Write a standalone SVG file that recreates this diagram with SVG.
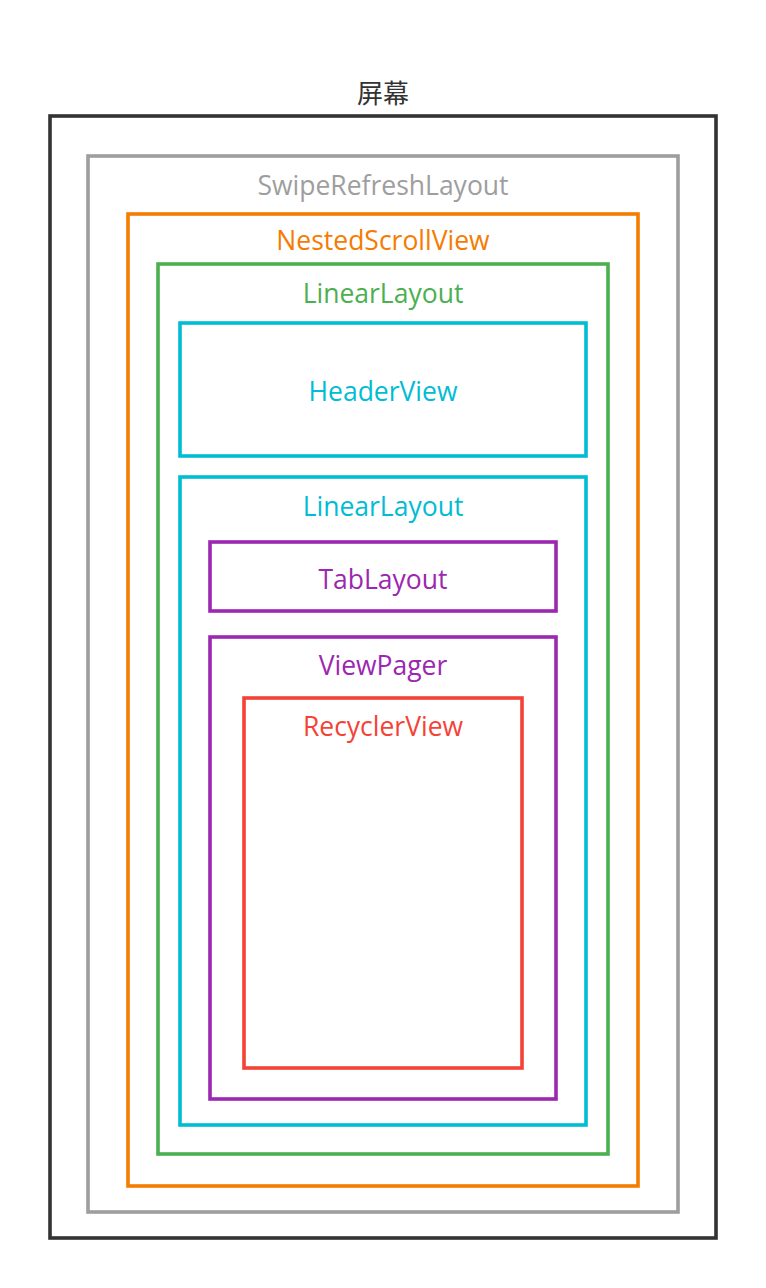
<svg xmlns="http://www.w3.org/2000/svg" width="766" height="1288" viewBox="0 0 766 1288">
<style>
rect{fill:none;stroke-width:3.6}
text{font-family:"Open Sans","Noto Sans","Noto Sans CJK SC",sans-serif;font-size:26.5px;text-anchor:middle}
.k rect{stroke:#333333}.k text{fill:#333333}
.g rect{stroke:#9E9E9E}.g text{fill:#9E9E9E}
.o rect{stroke:#F57C00}.o text{fill:#F57C00}
.n rect{stroke:#4CAF50}.n text{fill:#4CAF50}
.c rect{stroke:#00BCD4}.c text{fill:#00BCD4}
.p rect{stroke:#9C27B0}.p text{fill:#9C27B0}
.r rect{stroke:#F44336}.r text{fill:#F44336}
</style>
<rect x="0" y="0" width="766" height="1288" fill="#ffffff" stroke="none"/>
<g id="screen" class="k"><rect x="50" y="116" width="666" height="1122"/><text x="383" y="103" style="font-family:'Noto Sans CJK SC',sans-serif;font-size:26px">屏幕</text></g>
<g id="swipe" class="g"><rect x="88" y="156" width="590" height="1056"/><text x="383" y="195">SwipeRefreshLayout</text></g>
<g id="nested" class="o"><rect x="128" y="214" width="510" height="972"/><text x="383" y="250">NestedScrollView</text></g>
<g id="linear1" class="n"><rect x="158" y="264" width="450" height="890"/><text x="383" y="303">LinearLayout</text></g>
<g id="header" class="c"><rect x="180" y="323" width="406" height="133"/><text x="383" y="401">HeaderView</text></g>
<g id="linear2" class="c"><rect x="180" y="477" width="406" height="648"/><text x="383" y="516">LinearLayout</text></g>
<g id="tab" class="p"><rect x="210" y="542" width="346" height="69"/><text x="383" y="589">TabLayout</text></g>
<g id="pager" class="p"><rect x="210" y="637" width="346" height="462"/><text x="383" y="675">ViewPager</text></g>
<g id="recycler" class="r"><rect x="244" y="698" width="278" height="370"/><text x="383" y="736">RecyclerView</text></g>
<g id="connectors"/>
</svg>
